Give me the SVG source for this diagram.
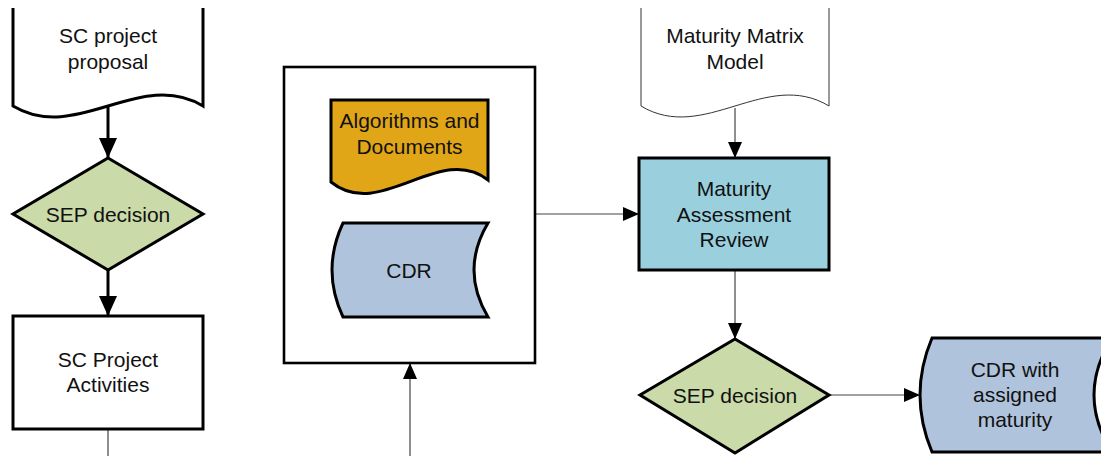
<svg xmlns="http://www.w3.org/2000/svg" width="1101" height="456" viewBox="0 0 1101 456">
<defs>
<style>
text{font-family:"Liberation Sans",Arial,sans-serif;font-size:21px;fill:#111;text-anchor:middle}
.thick{fill:#fff;stroke:#000;stroke-width:3;stroke-linejoin:miter}
.thin{fill:#fff;stroke:#333;stroke-width:1}
.conn{fill:none;stroke:#444;stroke-width:1.2}
.connb{fill:none;stroke:#000;stroke-width:3}
</style>
<marker id="ah" viewBox="0 0 16 14" refX="16" refY="7" markerWidth="16" markerHeight="14" markerUnits="userSpaceOnUse" orient="auto">
<path d="M0,0 L16,7 L0,14 Z" fill="#000"/>
</marker>
<marker id="ahb" viewBox="0 0 20 18" refX="20" refY="9" markerWidth="20" markerHeight="18" markerUnits="userSpaceOnUse" orient="auto">
<path d="M0,0 L20,9 L0,18 Z" fill="#000"/>
</marker>
</defs>

<g id="connectors">
<line class="connb" x1="108" y1="106" x2="108" y2="158" marker-end="url(#ahb)"/>
<line class="connb" x1="108" y1="270" x2="108" y2="316" marker-end="url(#ahb)"/>
<line class="conn" x1="108" y1="429" x2="108" y2="456"/>
<line class="conn" x1="410" y1="456" x2="410" y2="363" marker-end="url(#ah)"/>
<line class="conn" x1="535" y1="214" x2="639" y2="214" marker-end="url(#ah)"/>
<line class="conn" x1="735" y1="108" x2="735" y2="158" marker-end="url(#ah)"/>
<line class="conn" x1="735" y1="270" x2="735" y2="339" marker-end="url(#ah)"/>
<line class="conn" x1="829" y1="395" x2="920" y2="395" marker-end="url(#ah)"/>
</g>

<g id="sc-project-proposal">
<path class="thick" d="M13,8 L13,106 C76,144 140,68 203,106 L203,8"/>
<text x="108" y="43">SC project</text>
<text x="108" y="68.5">proposal</text>
</g>

<g id="sep-decision-1">
<path class="thick" d="M108,158 L203,214 L108,270 L13,214 Z" style="fill:#CBDAA9"/>
<text x="108" y="221.5">SEP decision</text>
</g>

<g id="sc-project-activities">
<rect class="thick" x="13" y="316" width="190" height="113"/>
<text x="108" y="367">SC Project</text>
<text x="108" y="392">Activities</text>
</g>

<g id="container">
<rect class="thick" x="284" y="67" width="251" height="296" style="stroke-width:2.6"/>
</g>

<g id="algorithms-and-documents">
<path class="thick" d="M331,100 L488,100 L488,180 C440,142 380,222 331,182 Z" style="fill:#E1A617"/>
<text x="409.5" y="128">Algorithms and</text>
<text x="409.5" y="154">Documents</text>
</g>

<g id="cdr">
<path class="thick" d="M343,223 L488,223 Q460,270 488,317 L343,317 Q321,270 343,223 Z" style="fill:#B0C3DC"/>
<text x="409" y="277.5">CDR</text>
</g>

<g id="maturity-matrix-model">
<path class="thin" d="M641,8 L641,106 C704,144 766,68 829,106 L829,8"/>
<text x="735" y="43">Maturity Matrix</text>
<text x="735" y="68.5">Model</text>
</g>

<g id="maturity-assessment-review">
<rect class="thick" x="639" y="158" width="190" height="112" style="fill:#9AD0DE"/>
<text x="734" y="196">Maturity</text>
<text x="734" y="221.5">Assessment</text>
<text x="734" y="246.5">Review</text>
</g>

<g id="sep-decision-2">
<path class="thick" d="M735,339 L829,395 L735,453 L640,395 Z" style="fill:#CBDAA9"/>
<text x="735" y="402.5">SEP decision</text>
</g>

<g id="cdr-with-assigned-maturity">
<path class="thick" d="M932,338 L1112,338 Q1076,395 1112,452 L932,452 Q908,395 932,338 Z" style="fill:#B0C3DC"/>
<text x="1015" y="377">CDR with</text>
<text x="1015" y="402">assigned</text>
<text x="1015" y="427">maturity</text>
</g>
</svg>
